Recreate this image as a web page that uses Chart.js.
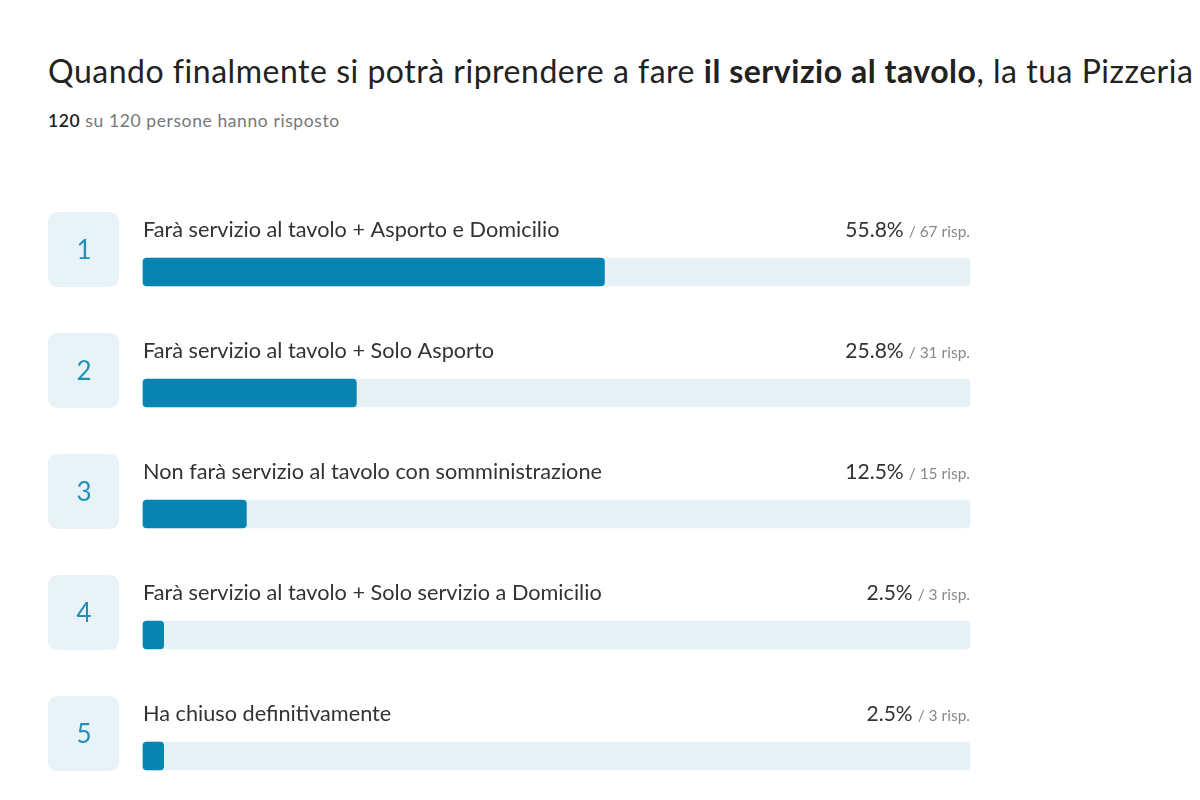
<!DOCTYPE html>
<html>
<head>
<meta charset="utf-8">
<script src="https://cdn.jsdelivr.net/npm/chart.js@4/dist/chart.umd.min.js"></script>
<style>
  html, body { margin: 0; padding: 0; background: #fff; overflow: hidden; }
  body { width: 1200px; height: 800px; position: relative; font-family: Lato, sans-serif; }
  #titolo { position: absolute; left: 48px; top: 51px; font-size: 32px; color: #222; white-space: nowrap; letter-spacing: 0.52px; }
  #sottotitolo { position: absolute; left: 48px; top: 110px; font-size: 17.5px; color: #777; letter-spacing: 0.6px; }
  #sottotitolo b { color: #222; font-weight: 600; }
  #wrap { position: absolute; left: 0; top: 0; width: 1200px; height: 800px; }
</style>
</head>
<body>
<div id="titolo">Quando finalmente si potrà riprendere a fare <b>il servizio al tavolo</b>, la tua Pizzeria</div>
<div id="sottotitolo"><b>120</b> su 120 persone hanno risposto</div>
<div id="wrap"><canvas id="grafico" width="1200" height="800"></canvas></div>
<script>
const risposte = [
    'Farà servizio al tavolo + Asporto e Domicilio',
    'Farà servizio al tavolo + Solo Asporto',
    'Non farà servizio al tavolo con somministrazione',
    'Farà servizio al tavolo + Solo servizio a Domicilio',
    'Ha chiuso definitivamente'
];
const percentuali = [55.8, 25.8, 12.5, 2.5, 2.5];
const conteggi = [67, 31, 15, 3, 3];
const numeri = ['1', '2', '3', '4', '5'];

// testi e riquadri numerati disegnati sopra le barre
const etichettePlugin = {
    id: 'etichette',
    afterDatasetsDraw(chart) {
        const ctx = chart.ctx;
        const area = chart.chartArea;
        const y = chart.scales.y;
        ctx.save();
        risposte.forEach(function (testo, i) {
            const cy = y.getPixelForValue(i);
            // riquadro con il numero
            ctx.fillStyle = '#e8f3f8';
            ctx.beginPath();
            ctx.roundRect(48, cy - 60, 71, 75, 9);
            ctx.fill();
            ctx.fillStyle = '#2290b6';
            ctx.font = '26px Lato';
            ctx.textAlign = 'center';
            ctx.textBaseline = 'middle';
            ctx.fillText(numeri[i], 84, cy - 21);

            // testo della risposta
            ctx.fillStyle = '#333';
            ctx.font = '21.7px Lato';
            ctx.textAlign = 'left';
            ctx.fillText(testo, area.left, cy - 42);

            // percentuale e risposte
            ctx.textAlign = 'right';
            ctx.font = '15.5px Lato';
            ctx.fillStyle = '#888';
            const risp = '/ ' + conteggi[i] + ' risp.';
            ctx.fillText(risp, area.right, cy - 40);
            const w = ctx.measureText(risp).width;
            ctx.font = '21px Lato';
            ctx.fillStyle = '#333';
            ctx.fillText(percentuali[i].toFixed(1) + '%', area.right - w - 5, cy - 42);
        });
        ctx.restore();
    }
};

const ctx = document.getElementById('grafico').getContext('2d');
const chart = new Chart(ctx, {
    type: 'bar',
    data: {
        labels: risposte,
        datasets: [{
            label: 'Risposte',
            data: percentuali,
            backgroundColor: '#0784b0',
            borderRadius: 4,
            borderSkipped: false,
            barThickness: 28,
            clip: false,
            order: 0
        }, {
            label: 'Totale',
            data: risposte.map(() => 100),
            backgroundColor: '#e6f1f6',
            borderRadius: 4,
            borderSkipped: false,
            barThickness: 28,
            clip: false,
            order: 1
        }]
    },
    options: {
        indexAxis: 'y',
        responsive: false,
        maintainAspectRatio: false,
        animation: false,
        layout: {
            padding: { left: 143, right: 230, top: 272, bottom: 44 }
        },
        plugins: {
            legend: { display: false },
            tooltip: { enabled: false },
            title: { display: false }
        },
        scales: {
            x: {
                display: false,
                min: 0,
                max: 100
            },
            y: {
                display: false,
                offset: false,
                stacked: true
            }
        }
    },
    plugins: [etichettePlugin]
});
</script>
</body>
</html>
